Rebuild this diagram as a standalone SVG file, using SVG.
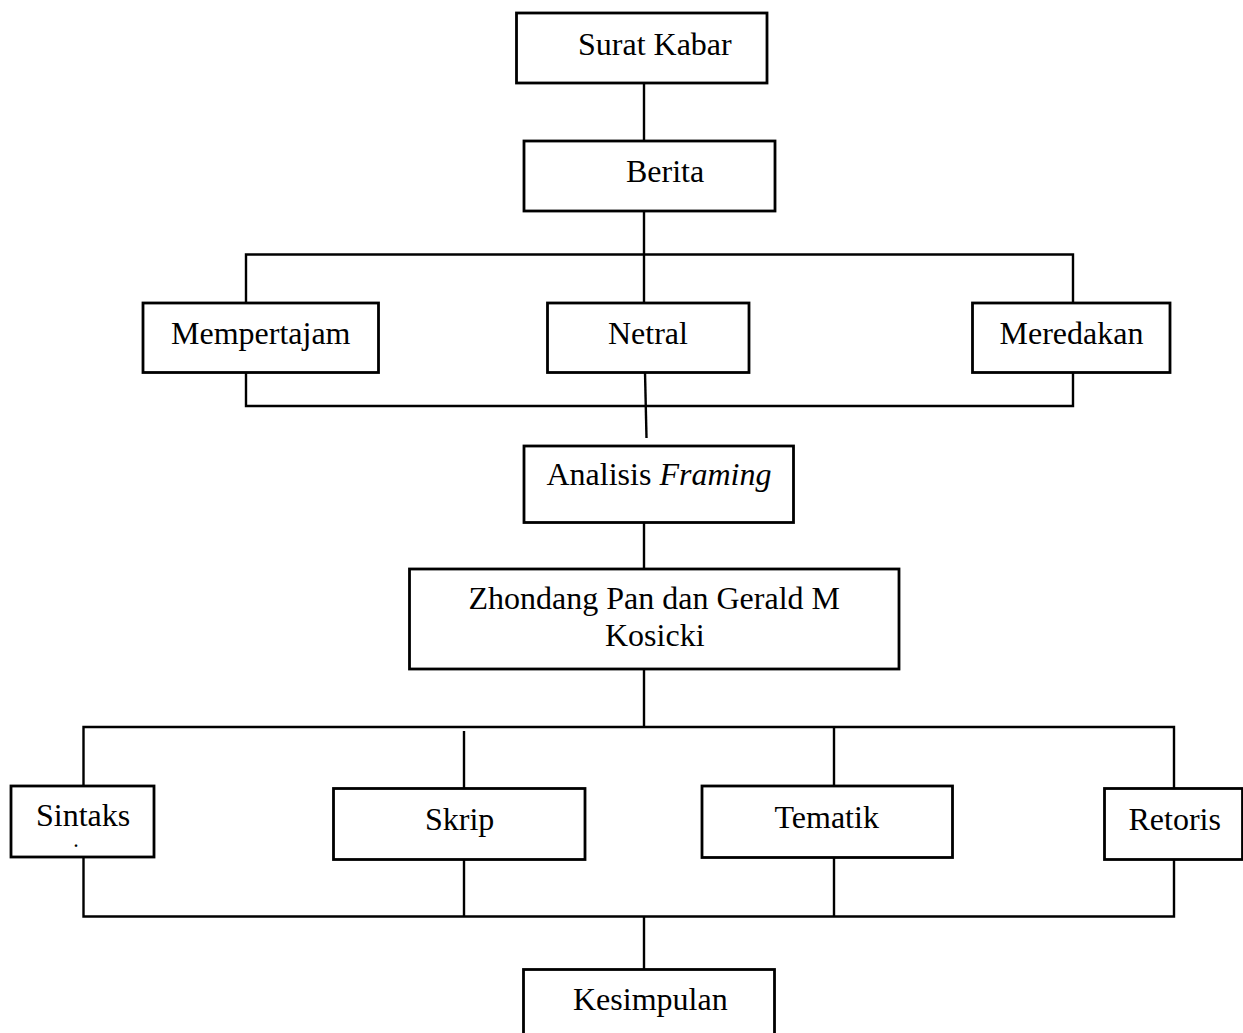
<svg xmlns="http://www.w3.org/2000/svg" width="1243" height="1033" viewBox="0 0 1243 1033">
<style>
.box{fill:#fff;stroke:#000;stroke-width:2.8}
.t{font-family:"Liberation Serif","Times New Roman",serif;font-size:32px;fill:#000}
.i{font-style:italic}
.c line,.c polyline{stroke:#000;stroke-width:2.4;fill:none}
</style>
<rect width="1243" height="1033" fill="#fff"/>
<g class="c" id="connectors">
<line x1="644" y1="83" x2="644" y2="141"/>
<line x1="644" y1="211" x2="644" y2="303"/>
<polyline points="246,303 246,254.5 1073,254.5 1073,303"/>
<polyline points="246,372 246,406 1073,406 1073,372"/>
<line x1="645" y1="372" x2="646.5" y2="438"/>
<line x1="644" y1="523" x2="644" y2="569"/>
<line x1="644" y1="669" x2="644" y2="727"/>
<polyline points="83.5,786 83.5,727 1174,727 1174,788"/>
<line x1="464" y1="731" x2="464" y2="788"/>
<line x1="834" y1="727" x2="834" y2="786"/>
<polyline points="83.5,857 83.5,916.5 1174,916.5 1174,859"/>
<line x1="464" y1="859" x2="464" y2="916.5"/>
<line x1="834" y1="857" x2="834" y2="916.5"/>
<line x1="644" y1="916.5" x2="644" y2="969"/>
</g>
<g id="surat-kabar"><rect class="box" x="516.5" y="13" width="250.5" height="70"/><text class="t" x="578" y="55">Surat Kabar</text></g>
<g id="berita"><rect class="box" x="524" y="141" width="251" height="70"/><text class="t" x="626" y="182">Berita</text></g>
<g id="mempertajam"><rect class="box" x="143" y="303" width="235.5" height="69.5"/><text class="t" x="171" y="344">Mempertajam</text></g>
<g id="netral"><rect class="box" x="547.5" y="303" width="201.5" height="69.5"/><text class="t" x="608" y="343.5">Netral</text></g>
<g id="meredakan"><rect class="box" x="972.5" y="303" width="197.5" height="69.5"/><text class="t" x="999.5" y="343.5">Meredakan</text></g>
<g id="analisis-framing"><rect class="box" x="524" y="446" width="269.5" height="76.5"/><text class="t" x="546.5" y="485">Analisis <tspan class="i">Framing</tspan></text></g>
<g id="zhondang"><rect class="box" x="409.5" y="569" width="489.5" height="100"/><text class="t" x="468.5" y="609">Zhondang Pan dan Gerald M</text><text class="t" x="605" y="645.5">Kosicki</text></g>
<g id="sintaks"><rect class="box" x="11" y="786" width="143" height="71"/><text class="t" x="36" y="826">Sintaks</text><text class="t" x="74" y="847" style="font-size:16px;font-weight:bold">.</text></g>
<g id="skrip"><rect class="box" x="333.5" y="788.5" width="251.5" height="71"/><text class="t" x="425" y="830">Skrip</text></g>
<g id="tematik"><rect class="box" x="702" y="786" width="250.5" height="71.5"/><text class="t" x="774.5" y="827.5">Tematik</text></g>
<g id="retoris"><rect class="box" x="1104.5" y="788.5" width="138" height="71"/><text class="t" x="1128.5" y="830">Retoris</text></g>
<g id="kesimpulan"><rect class="box" x="523.5" y="969.5" width="251" height="80"/><text class="t" x="573" y="1010">Kesimpulan</text></g>
</svg>
